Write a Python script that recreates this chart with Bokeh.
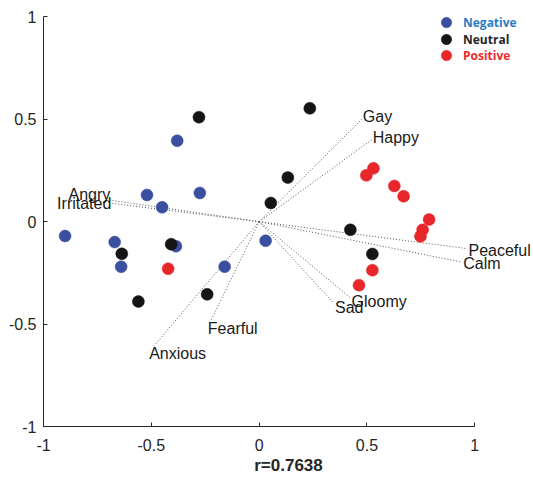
from bokeh.plotting import figure
from bokeh.models import Range1d, ColumnDataSource, Legend, LegendItem, FixedTicker
from bokeh.core.properties import value
from bokeh.embed import file_html
from bokeh.resources import INLINE

# ---- data ----
neg_x = [-0.90, -0.67, -0.64, -0.52, -0.45, -0.38, -0.386, -0.275, -0.16, 0.03]
neg_y = [-0.07, -0.10, -0.22, 0.13, 0.07, 0.395, -0.12, 0.14, -0.22, -0.093]

neu_x = [-0.279, 0.235, 0.133, 0.054, 0.423, 0.525, -0.637, -0.408, -0.56, -0.241]
neu_y = [0.51, 0.553, 0.215, 0.091, -0.04, -0.158, -0.157, -0.11, -0.39, -0.355]

pos_x = [0.497, 0.53, 0.627, 0.67, 0.788, 0.758, 0.748, 0.525, 0.463, -0.422]
pos_y = [0.226, 0.26, 0.174, 0.124, 0.01, -0.04, -0.072, -0.237, -0.31, -0.23]

vec_names = ["Gay", "Happy", "Angry", "Irritated", "Peaceful", "Calm",
             "Gloomy", "Sad", "Fearful", "Anxious"]
vec_x = [0.476, 0.522, -0.69, -0.69, 0.966, 0.942, 0.424, 0.347, -0.224, -0.487]
vec_y = [0.50, 0.40, 0.105, 0.09, -0.132, -0.198, -0.373, -0.40, -0.484, -0.606]

ticks = [-1, -0.5, 0, 0.5, 1]
tick_labels = ["-1", "-0.5", "0", "0.5", "1"]
x_title = "r=0.7638"
groups = ["Negative", "Neutral", "Positive"]

# ---- styles ----
label_align = ["left", "left", "right", "right", "left", "left", "left", "left", "left", "left"]
label_dx = [1, 1, 0, 1, 1, 1, 1, 1, -3, -5]
label_dy = [-3, -2, -6, 0, 2, 1, 3, 4, 8, 8]

dot_colors = ["#3a4f9f", "#151515", "#e8272b"]
legend_text_colors = ["#2a7cc4", "#262626", "#ee2a2a"]

# frame: x=-1 at px 43, 215.65 px/unit; y=-1 at px 427, 205.35 px/unit
p = figure(width=533, height=477, output_backend="svg", toolbar_location=None,
           x_range=Range1d(-1, -1 + 490 / 215.65), y_range=Range1d(-1, -1 + 427 / 205.35),
           min_border_left=43, min_border_right=0, min_border_top=0, min_border_bottom=50)
p.outline_line_color = None
p.grid.visible = False
p.background_fill_color = "white"
p.border_fill_color = "white"

for ax in (p.xaxis[0], p.yaxis[0]):
    ax.ticker = FixedTicker(ticks=ticks)
    ax.bounds = (-1, 1)
    ax.major_label_overrides = {t: l for t, l in zip(ticks, tick_labels)}
    ax.minor_tick_line_color = None
    ax.major_tick_in = 4
    ax.major_tick_out = 0
    ax.axis_line_color = "#262626"
    ax.major_tick_line_color = "#262626"
    ax.major_label_text_font = "Liberation Sans"
    ax.major_label_text_font_size = "16px"
    ax.major_label_text_color = "#262626"

p.yaxis.major_label_standoff = 7
p.xaxis.major_label_standoff = 12
p.xaxis.axis_label = x_title
p.xaxis.axis_label_text_font = "Liberation Sans"
p.xaxis.axis_label_text_font_size = "17px"
p.xaxis.axis_label_text_font_style = "bold"
p.xaxis.axis_label_text_color = "#262626"
p.xaxis.axis_label_standoff = 2

# vectors
for vx, vy in zip(vec_x, vec_y):
    p.line([0, vx], [0, vy], line_color="#555555", line_width=1, line_dash="1 2")

src = ColumnDataSource(dict(x=vec_x, y=vec_y, t=vec_names, a=label_align,
                            dx=label_dx, dy=label_dy))
p.text(x="x", y="y", text="t", text_align="a", text_baseline="middle",
       x_offset="dx", y_offset="dy", source=src,
       text_font=value("Liberation Sans"), text_font_size="16px", text_color="#1a1a1a")

# points
renderers = []
for xs, ys, c in zip([neg_x, neu_x, pos_x], [neg_y, neu_y, pos_y], dot_colors):
    renderers.append(p.scatter(xs, ys, size=12, fill_color=c, line_color=c, line_width=0.5))

# legends (one per group so each label gets its colour)
centers = [404, 387, 371]
for g, r, tc, cy in zip(groups, renderers, legend_text_colors, centers):
    leg = Legend(items=[LegendItem(label=g, renderers=[r])],
                 location=(390, cy - 13),
                 background_fill_alpha=0, border_line_color=None,
                 padding=0, margin=0, spacing=0,
                 glyph_width=26, glyph_height=26, label_standoff=4,
                 label_text_font="Open Sans", label_text_font_style="bold",
                 label_text_font_size="12px", label_text_color=tc,
                 label_height=26)
    p.add_layout(leg, "center")

open("out.html", "w").write(file_html(p, INLINE))
